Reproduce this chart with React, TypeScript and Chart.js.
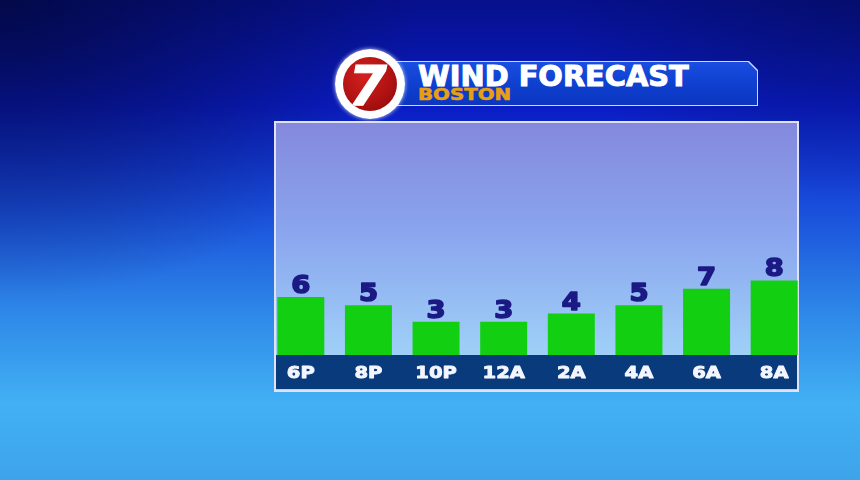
import { useEffect, useRef } from "react"
import { Chart, registerables } from "chart.js"

Chart.register(...registerables)

const hours = ["6P", "8P", "10P", "12A", "2A", "4A", "6A", "8A"]
const windSpeeds = [6, 5, 3, 3, 4, 5, 7, 8]

const title = "WIND FORECAST"
const city = "BOSTON"

// numbers above the bars + hour labels in the navy strip
const labelsPlugin = {
  id: "windLabels",
  afterDatasetsDraw(chart: any) {
    const { ctx, chartArea } = chart
    const meta = chart.getDatasetMeta(0)
    const xScale = chart.scales.x
    ctx.save()
    meta.data.forEach((bar: any, i: number) => {
      ctx.save()
      ctx.translate(bar.x, bar.y - 4)
      ctx.scale(1.14, 1)
      ctx.font = "bold 24px 'DejaVu Sans'"
      ctx.fillStyle = "#1b1a84"
      ctx.strokeStyle = "#1b1a84"
      ctx.lineWidth = 1.6
      ctx.lineJoin = "round"
      ctx.textAlign = "center"
      ctx.textBaseline = "alphabetic"
      ctx.strokeText(String(windSpeeds[i]), 0, 0)
      ctx.fillText(String(windSpeeds[i]), 0, 0)
      ctx.restore()
    })
    hours.forEach((h, i) => {
      ctx.save()
      ctx.translate(xScale.getPixelForValue(i), chartArea.bottom + 23)
      ctx.scale(1.22, 1)
      ctx.font = "bold 16px 'DejaVu Sans'"
      ctx.fillStyle = "#f4f6ff"
      ctx.strokeStyle = "#f4f6ff"
      ctx.lineWidth = 0.9
      ctx.lineJoin = "round"
      ctx.textAlign = "center"
      ctx.textBaseline = "alphabetic"
      ctx.strokeText(h, 0, 0)
      ctx.fillText(h, 0, 0)
      ctx.restore()
    })
    ctx.restore()
  },
}

function WindChart() {
  const chartRef = useRef<HTMLCanvasElement | null>(null)
  const chartInstance = useRef<Chart | null>(null)

  useEffect(() => {
    if (!chartRef.current) return
    const ctx = chartRef.current.getContext("2d")
    if (!ctx) return
    if (chartInstance.current) chartInstance.current.destroy()

    chartInstance.current = new Chart(ctx, {
      type: "bar",
      data: {
        labels: hours,
        datasets: [
          {
            data: windSpeeds,
            backgroundColor: "#13cf12",
            borderWidth: 0,
            base: -1,
            categoryPercentage: 1,
            barPercentage: 0.695,
          } as any,
        ],
      },
      options: {
        animation: false,
        responsive: false,
        maintainAspectRatio: false,
        layout: { padding: { top: 2, left: 0, right: 0, bottom: 0 } },
        scales: {
          x: {
            grid: { display: false },
            border: { display: false },
            ticks: { display: false },
            afterFit: (s: any) => {
              s.height = 38
            },
          },
          y: { display: false, min: -1, max: 27 },
        },
        plugins: {
          legend: { display: false },
          tooltip: { enabled: false },
        },
      },
      plugins: [labelsPlugin],
    })

    return () => {
      if (chartInstance.current) {
        chartInstance.current.destroy()
        chartInstance.current = null
      }
    }
  }, [])

  return (
    <canvas
      ref={chartRef}
      width={541}
      height={272}
      style={{ position: "absolute", left: 267, top: 121, width: 541, height: 272 }}
    />
  )
}

export default function App() {
  return (
    <div
      style={{
        position: "fixed",
        left: 0,
        top: 0,
        width: 860,
        height: 480,
        overflow: "hidden",
        fontFamily: "'DejaVu Sans', sans-serif",
        background:
          "radial-gradient(ellipse 420px 300px at 0% 0%, rgba(2,6,50,0.75), rgba(2,6,50,0) 100%)," +
          "radial-gradient(ellipse 300px 200px at 100% 0%, rgba(4,10,80,0.5), rgba(4,10,80,0) 100%)," +
          "linear-gradient(180deg, #06108c 0%, #0a1cc4 22%, #1a52dc 45%, #2f8ae8 66%, #42b0f4 84%, #3ea4ea 100%)",
      }}
    >
      {/* chart frame */}
      <div
        style={{
          position: "absolute",
          left: 274,
          top: 121,
          width: 525,
          height: 271,
          boxSizing: "border-box",
          border: "2px solid #dfe2f4",
          background: "linear-gradient(180deg, #8489dd 0%, #8aa4ee 40%, #9ccaf6 80%, #a4daf9 100%)",
        }}
      >
        <div
          style={{
            position: "absolute",
            left: 0,
            right: 0,
            top: 232,
            height: 34,
            background: "#083a7c",
          }}
        />
      </div>

      <WindChart />

      {/* title banner */}
      <div
        style={{
          position: "absolute",
          left: 392,
          top: 61,
          width: 366,
          height: 45,
          background: "#cfd8ff",
          clipPath: "polygon(0 0, 357px 0, 366px 9px, 366px 45px, 0 45px)",
        }}
      >
        <div
          style={{
            position: "absolute",
            left: 1,
            top: 1,
            right: 1,
            bottom: 1,
            background: "linear-gradient(180deg, #1a4ee0 0%, #0f40d0 50%, #0c36c0 100%)",
            clipPath: "polygon(0 0, 355px 0, 364px 9px, 364px 43px, 0 43px)",
          }}
        />
      </div>
      <div
        style={{
          position: "absolute",
          left: 418,
          top: 63,
          fontSize: 28,
          lineHeight: "28px",
          fontWeight: "bold",
          color: "#ffffff",
          whiteSpace: "nowrap",
          WebkitTextStroke: "1px #ffffff",
          transform: "scaleX(1.03)",
          transformOrigin: "left top",
        }}
      >
        {title}
      </div>
      <div
        style={{
          position: "absolute",
          left: 418,
          top: 87,
          fontSize: 16.5,
          lineHeight: "16.5px",
          fontWeight: "bold",
          color: "#e8a012",
          whiteSpace: "nowrap",
          WebkitTextStroke: "0.6px #e8a012",
          transform: "scaleX(1.2)",
          transformOrigin: "left top",
        }}
      >
        {city}
      </div>

      {/* station logo */}
      <div
        style={{
          position: "absolute",
          left: 335,
          top: 49,
          width: 70,
          height: 70,
          borderRadius: "50%",
          background: "radial-gradient(circle at 50% 50%, #ffffff 70%, #e4f0ff 100%)",
          boxShadow: "0 0 4px rgba(220,235,255,0.9)",
        }}
      >
        <div
          style={{
            position: "absolute",
            left: 8,
            top: 8,
            width: 54,
            height: 54,
            borderRadius: "50%",
            background: "radial-gradient(circle at 40% 35%, #d42020 0%, #b01212 55%, #860808 100%)",
            overflow: "hidden",
          }}
        >
          <div
            style={{
              position: "absolute",
              left: 5,
              top: 1,
              fontSize: 56,
              lineHeight: "56px",
              fontWeight: "bold",
              fontStyle: "italic",
              color: "#ffffff",
              WebkitTextStroke: "1px #ffffff",
            }}
          >
            7
          </div>
        </div>
      </div>
    </div>
  )
}
